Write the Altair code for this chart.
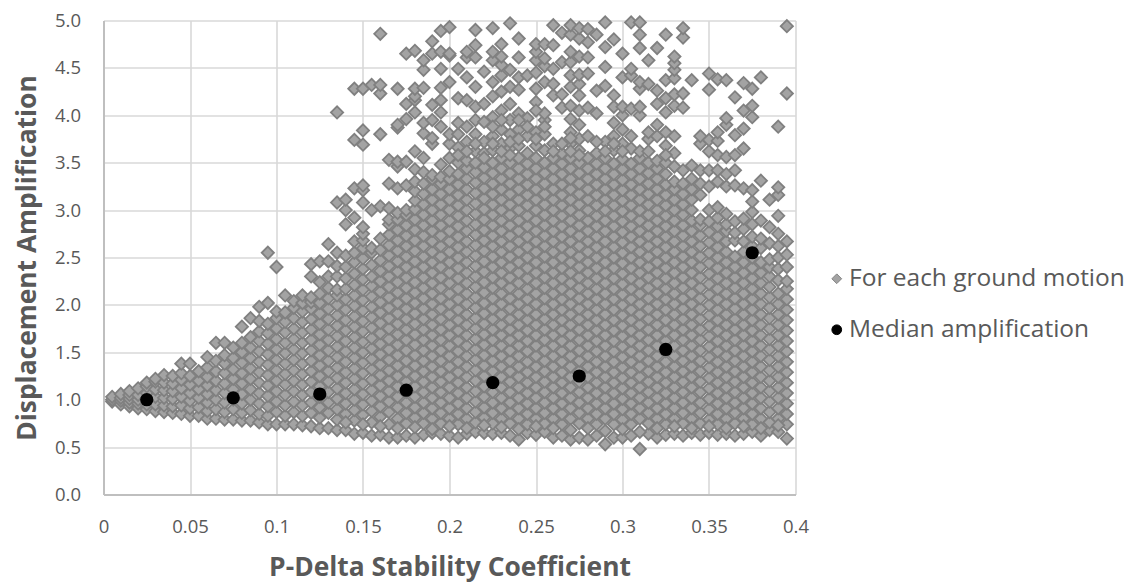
import altair as alt
import pandas as pd

# y readings for each column of points, x = 0.005 ... 0.395
c01=[.98,1.0,1.03]
c02=[.95,.99,1.02,1.06]
c03=[.93,.97,1.01,1.05,1.09]
c04=[.91,.96,1.0,1.05,1.12]
c05=[.9,.95,1.01,1.07,1.14,1.18]
c06=[.88,.95,1.03,1.11,1.19,1.22]
c07=[.87,.94,1.02,1.1,1.18,1.26]
c08=[.86,.93,1.01,1.09,1.17,1.25]
c09=[.85,.94,1.03,1.12,1.21,1.28,1.38]
c10=[.83,.91,.99,1.07,1.16,1.25,1.38]
c11=[.83,.92,1.02,1.11,1.2,1.3]
c12=[.8,.88,.97,1.06,1.15,1.24,1.34,1.45]
c13=[.8,.9,1.0,1.1,1.2,1.3,1.41,1.6]
c14=[.79,.87,.97,1.07,1.17,1.28,1.38,1.47,1.6]
c15=[.79,.9,1.0,1.11,1.22,1.32,1.44,1.55]
c16=[.78,.86,.96,1.06,1.17,1.28,1.39,1.5,1.6,1.77]
c17=[.78,.89,1.0,1.11,1.22,1.33,1.44,1.55,1.66,1.86]
c18=[.76,.85,.96,1.07,1.18,1.29,1.4,1.51,1.62,1.72,1.83,1.98]
c19=[.74,.83,.93,1.04,1.15,1.26,1.37,1.48,1.59,1.7,1.8,2.02,2.55]
c20=[.74,.87,.98,1.09,1.2,1.31,1.42,1.53,1.64,1.75,1.86,1.93,2.4]
c21=[.74,.83,.94,1.05,1.16,1.27,1.38,1.49,1.6,1.71,1.82,1.92,2.1]
c22=[.74,.87,.98,1.09,1.2,1.31,1.42,1.53,1.64,1.75,1.86,1.97,2.04]
c23=[.73,.83,.94,1.05,1.16,1.27,1.38,1.49,1.6,1.71,1.82,1.93,2.02,2.1]
c24=[.72,.86,.97,1.08,1.19,1.3,1.41,1.52,1.63,1.74,1.85,1.96,2.03,2.08,2.3,2.43]
c25=[.7,.81,.92,1.03,1.14,1.25,1.36,1.47,1.58,1.69,1.8,1.91,2.02,2.12,2.24,2.46]
c26=[.7,.86,.97,1.08,1.19,1.3,1.41,1.52,1.63,1.74,1.85,1.96,2.07,2.18,2.3,2.46,2.64]
c27=[.68,.79,.9,1.01,1.12,1.23,1.34,1.45,1.56,1.67,1.78,1.89,2.0,2.1,2.16,2.3,2.41,2.55,3.08,4.03]
c28=[.68,.85,.96,1.07,1.18,1.29,1.4,1.51,1.62,1.73,1.84,1.95,2.06,2.17,2.28,2.4,2.52,2.85,3.0,3.11]
c29=[.64,.78,.89,1.0,1.11,1.22,1.33,1.44,1.55,1.66,1.77,1.88,1.99,2.1,2.21,2.33,2.45,2.55,2.67,2.92,3.23,3.74,4.28]
c30=[.65,.84,.95,1.06,1.17,1.28,1.39,1.5,1.61,1.72,1.83,1.94,2.05,2.16,2.27,2.38,2.49,2.6,2.68,2.75,2.82,3.08,3.21,3.26,3.69,3.84,4.28]
c31=[.62,.76,.88,.99,1.1,1.21,1.32,1.43,1.54,1.65,1.76,1.87,1.98,2.09,2.2,2.3,2.42,2.55,2.6,3.0,4.32]
c32=[.63,.82,.93,1.04,1.15,1.26,1.37,1.48,1.59,1.7,1.81,1.92,2.03,2.14,2.25,2.36,2.47,2.58,2.7,3.04,3.8,4.23,4.32,4.86]
c33=[.6,.74,.87,.98,1.09,1.2,1.31,1.42,1.53,1.64,1.75,1.86,1.97,2.08,2.19,2.3,2.41,2.52,2.63,2.74,2.85,2.9,3.02,3.28,3.53]
c34=[.6,.8,.92,1.03,1.14,1.25,1.36,1.47,1.58,1.69,1.8,1.91,2.02,2.13,2.24,2.35,2.46,2.57,2.68,2.79,2.9,2.97,3.23,3.46,3.51,3.87,3.9,4.28]
c35=[.62,.75,.86,.97,1.08,1.19,1.3,1.41,1.52,1.63,1.74,1.85,1.96,2.07,2.18,2.29,2.4,2.51,2.62,2.73,2.84,2.95,3.0,3.26,3.51,3.96,4.12,4.65]
c36=[.6,.81,.92,1.03,1.14,1.25,1.36,1.47,1.58,1.69,1.8,1.91,2.02,2.13,2.24,2.35,2.46,2.57,2.68,2.79,2.9,3.01,3.1,3.2,3.3,3.43,3.62,4.03,4.16,4.2,4.28,4.68]
c37=[.63,.75,.86,.97,1.08,1.19,1.3,1.41,1.52,1.63,1.74,1.85,1.96,2.07,2.18,2.29,2.4,2.51,2.62,2.73,2.84,2.95,3.06,3.17,3.28,3.4,3.55,3.81,3.92,4.29,4.48,4.58]
c38=[.65,.8,.91,1.02,1.13,1.24,1.35,1.46,1.57,1.68,1.79,1.9,2.01,2.12,2.23,2.34,2.45,2.56,2.67,2.78,2.89,3.0,3.11,3.22,3.33,3.37,3.7,3.76,3.95,4.11,4.65,4.78]
c39=[.64,.75,.86,.97,1.08,1.19,1.3,1.41,1.52,1.63,1.74,1.85,1.96,2.07,2.18,2.29,2.4,2.51,2.62,2.73,2.84,2.95,3.06,3.17,3.28,3.35,3.48,3.88,4.03,4.16,4.29,4.49,4.67,4.89]
c40=[.62,.8,.91,1.02,1.13,1.24,1.35,1.46,1.57,1.68,1.79,1.9,2.01,2.12,2.23,2.34,2.45,2.56,2.67,2.78,2.89,3.0,3.11,3.22,3.33,3.41,3.7,3.8,4.35,4.63,4.65,4.93]
c41=[.6,.74,.85,.96,1.07,1.18,1.29,1.4,1.51,1.62,1.73,1.84,1.95,2.06,2.17,2.28,2.39,2.5,2.61,2.72,2.83,2.94,3.05,3.16,3.27,3.38,3.5,3.66,3.8,3.92,4.18,4.49]
c42=[.64,.8,.91,1.02,1.13,1.24,1.35,1.46,1.57,1.68,1.79,1.9,2.01,2.12,2.23,2.34,2.45,2.56,2.67,2.78,2.89,3.0,3.11,3.22,3.33,3.44,3.52,3.72,3.88,4.16,4.4,4.61,4.67]
c43=[.66,.76,.87,.98,1.09,1.2,1.31,1.42,1.53,1.64,1.75,1.86,1.97,2.08,2.19,2.3,2.41,2.52,2.63,2.74,2.85,2.96,3.07,3.18,3.29,3.4,3.5,3.62,3.8,3.95,4.09,4.3,4.61,4.74,4.9]
c44=[.65,.81,.92,1.03,1.14,1.25,1.36,1.47,1.58,1.69,1.8,1.91,2.02,2.13,2.24,2.35,2.46,2.57,2.68,2.79,2.9,3.01,3.12,3.23,3.34,3.45,3.6,3.72,3.93,4.12,4.46]
c45=[.64,.75,.86,.97,1.08,1.19,1.3,1.41,1.52,1.63,1.74,1.85,1.96,2.07,2.18,2.29,2.4,2.51,2.62,2.73,2.84,2.95,3.06,3.17,3.28,3.39,3.5,3.63,3.78,3.98,4.2,4.35,4.58,4.67,4.92]
c46=[.65,.8,.91,1.02,1.13,1.24,1.35,1.46,1.57,1.68,1.79,1.9,2.01,2.12,2.23,2.34,2.45,2.56,2.67,2.78,2.89,3.0,3.11,3.22,3.33,3.44,3.55,3.7,3.85,4.05,4.25,4.42,4.53,4.62,4.75]
c47=[.62,.75,.86,.97,1.08,1.19,1.3,1.41,1.52,1.63,1.74,1.85,1.96,2.07,2.18,2.29,2.4,2.51,2.62,2.73,2.84,2.95,3.06,3.17,3.28,3.39,3.5,3.65,3.8,3.95,4.12,4.3,4.48,4.97]
c48=[.58,.8,.91,1.02,1.13,1.24,1.35,1.46,1.57,1.68,1.79,1.9,2.01,2.12,2.23,2.34,2.45,2.56,2.67,2.78,2.89,3.0,3.11,3.22,3.33,3.44,3.55,3.68,3.85,4.02,4.27,4.4,4.61,4.81]
c49=[.65,.74,.85,.96,1.07,1.18,1.29,1.4,1.51,1.62,1.73,1.84,1.95,2.06,2.17,2.28,2.39,2.5,2.61,2.72,2.83,2.94,3.05,3.16,3.27,3.38,3.49,3.6,3.78,3.97,4.42]
c50=[.63,.8,.91,1.02,1.13,1.24,1.35,1.46,1.57,1.68,1.79,1.9,2.01,2.12,2.23,2.34,2.45,2.56,2.67,2.78,2.89,3.0,3.11,3.22,3.33,3.44,3.55,3.68,3.82,4.14,4.28,4.45,4.58,4.67,4.75]
c51=[.66,.75,.86,.97,1.08,1.19,1.3,1.41,1.52,1.63,1.74,1.85,1.96,2.07,2.18,2.29,2.4,2.51,2.62,2.73,2.84,2.95,3.06,3.17,3.28,3.39,3.5,3.63,3.8,3.95,4.02,4.35,4.52,4.6,4.75]
c52=[.6,.8,.91,1.02,1.13,1.24,1.35,1.46,1.57,1.68,1.79,1.9,2.01,2.12,2.23,2.34,2.45,2.56,2.67,2.78,2.89,3.0,3.11,3.22,3.33,3.44,3.55,3.7,4.21,4.33,4.49,4.74,4.95]
c53=[.62,.74,.85,.96,1.07,1.18,1.29,1.4,1.51,1.62,1.73,1.84,1.95,2.06,2.17,2.28,2.39,2.5,2.61,2.72,2.83,2.94,3.05,3.16,3.27,3.38,3.49,3.6,4.08,4.22,4.56,4.87]
c54=[.58,.8,.91,1.02,1.13,1.24,1.35,1.46,1.57,1.68,1.79,1.9,2.01,2.12,2.23,2.34,2.45,2.56,2.67,2.78,2.89,3.0,3.11,3.22,3.33,3.44,3.55,3.7,3.82,3.96,4.1,4.3,4.42,4.56,4.67,4.85,4.95]
c55=[.6,.75,.86,.97,1.08,1.19,1.3,1.41,1.52,1.63,1.74,1.85,1.96,2.07,2.18,2.29,2.4,2.51,2.62,2.73,2.84,2.95,3.06,3.17,3.28,3.39,3.5,3.63,3.75,3.9,4.05,4.21,4.33,4.43,4.62,4.81,4.92]
c56=[.58,.8,.91,1.02,1.13,1.24,1.35,1.46,1.57,1.68,1.79,1.9,2.01,2.12,2.23,2.34,2.45,2.56,2.67,2.78,2.89,3.0,3.11,3.22,3.33,3.44,3.55,3.78,4.08,4.44,4.61,4.77,4.91]
c57=[.62,.74,.85,.96,1.07,1.18,1.29,1.4,1.51,1.62,1.73,1.84,1.95,2.06,2.17,2.28,2.39,2.5,2.61,2.72,2.83,2.94,3.05,3.16,3.27,3.38,3.49,3.6,4.02,4.26,4.85]
c58=[.53,.8,.91,1.02,1.13,1.24,1.35,1.46,1.57,1.68,1.79,1.9,2.01,2.12,2.23,2.34,2.45,2.56,2.67,2.78,2.89,3.0,3.11,3.22,3.33,3.44,3.55,3.72,4.31,4.51,4.72,4.98]
c59=[.6,.74,.85,.96,1.07,1.18,1.29,1.4,1.51,1.62,1.73,1.84,1.95,2.06,2.17,2.28,2.39,2.5,2.61,2.72,2.83,2.94,3.05,3.16,3.27,3.38,3.49,3.63,3.78,3.92,4.09,4.21,4.8]
c60=[.6,.79,.9,1.01,1.12,1.23,1.34,1.45,1.56,1.67,1.78,1.89,2.0,2.11,2.22,2.33,2.44,2.55,2.66,2.77,2.88,2.99,3.1,3.21,3.32,3.43,3.54,3.7,3.85,4.0,4.09,4.4,4.65]
c61=[.62,.74,.85,.96,1.07,1.18,1.29,1.4,1.51,1.62,1.73,1.84,1.95,2.06,2.17,2.28,2.39,2.5,2.61,2.72,2.83,2.94,3.05,3.16,3.27,3.38,3.49,3.65,3.78,4.07,4.42,4.49,4.98]
c62=[.48,.8,.91,1.02,1.13,1.24,1.35,1.46,1.57,1.68,1.79,1.9,2.01,2.12,2.23,2.34,2.45,2.56,2.67,2.78,2.89,3.0,3.11,3.22,3.33,3.44,3.55,3.62,4.0,4.09,4.28,4.35,4.71,4.85,4.98]
c63=[.64,.75,.86,.97,1.08,1.19,1.3,1.41,1.52,1.63,1.74,1.85,1.96,2.07,2.18,2.29,2.4,2.51,2.62,2.73,2.84,2.95,3.06,3.17,3.28,3.39,3.5,3.75,3.82,4.33,4.58]
c64=[.6,.8,.91,1.02,1.13,1.24,1.35,1.46,1.57,1.68,1.79,1.9,2.01,2.12,2.23,2.34,2.45,2.56,2.67,2.78,2.89,3.0,3.11,3.22,3.33,3.44,3.52,3.78,4.12,4.26,4.71]
c65=[.63,.74,.85,.96,1.07,1.18,1.29,1.4,1.51,1.62,1.73,1.84,1.95,2.06,2.17,2.28,2.39,2.5,2.61,2.72,2.83,2.94,3.05,3.16,3.27,3.38,3.5,3.68,3.82,4.03,4.18,4.37,4.85]
c66=[.64,.8,.91,1.02,1.13,1.24,1.35,1.46,1.57,1.68,1.79,1.9,2.01,2.12,2.23,2.34,2.45,2.56,2.67,2.78,2.89,3.0,3.11,3.22,3.3,3.46,3.6,3.78,4.1,4.22,4.39,4.48,4.55,4.62]
c67=[.62,.75,.86,.97,1.08,1.19,1.3,1.41,1.52,1.63,1.74,1.85,1.96,2.07,2.18,2.29,2.4,2.51,2.62,2.73,2.84,2.95,3.06,3.17,3.28,3.42,4.08,4.23,4.82,4.92]
c68=[.65,.8,.91,1.02,1.13,1.24,1.35,1.46,1.57,1.68,1.79,1.9,2.01,2.12,2.23,2.34,2.45,2.56,2.67,2.78,2.89,3.0,3.11,3.22,3.33,3.47,4.37]
c69=[.63,.75,.86,.97,1.08,1.19,1.3,1.41,1.52,1.63,1.74,1.85,1.96,2.07,2.18,2.29,2.4,2.51,2.62,2.73,2.84,2.9,3.16,3.28,3.42,3.7,3.78]
c70=[.65,.79,.9,1.01,1.12,1.23,1.34,1.45,1.56,1.67,1.78,1.89,2.0,2.11,2.22,2.33,2.44,2.55,2.66,2.77,2.88,3.0,3.25,3.42,3.62,3.74,4.27,4.44]
c71=[.63,.74,.85,.96,1.07,1.18,1.29,1.4,1.51,1.62,1.73,1.84,1.95,2.06,2.17,2.28,2.39,2.5,2.61,2.72,2.83,2.92,3.03,3.3,3.42,3.58,3.73,3.82,4.38]
c72=[.64,.8,.91,1.02,1.13,1.24,1.35,1.46,1.57,1.68,1.79,1.9,2.01,2.12,2.23,2.34,2.45,2.56,2.67,2.78,2.85,2.96,3.25,3.38,3.56,3.9,3.97,4.37]
c73=[.62,.75,.86,.97,1.08,1.19,1.3,1.41,1.52,1.63,1.74,1.85,1.96,2.07,2.18,2.29,2.4,2.51,2.68,2.76,2.88,3.26,3.42,3.58,3.79,4.19]
c74=[.64,.8,.91,1.02,1.13,1.24,1.35,1.46,1.57,1.68,1.79,1.9,2.01,2.12,2.23,2.34,2.45,2.56,2.67,2.8,2.91,3.23,3.65,3.86,4.05,4.34]
c75=[.66,.74,.85,.96,1.07,1.18,1.29,1.4,1.51,1.62,1.73,1.84,1.95,2.06,2.17,2.28,2.39,2.5,2.62,2.72,2.85,2.98,3.09,3.21,3.98,4.1,4.28]
c76=[.62,.8,.91,1.02,1.13,1.24,1.35,1.46,1.57,1.68,1.79,1.9,2.01,2.12,2.23,2.34,2.45,2.6,2.7,2.89,3.31,4.4]
c77=[.68,.76,.87,.98,1.09,1.2,1.31,1.42,1.53,1.64,1.75,1.86,1.97,2.08,2.19,2.3,2.4,2.48,2.65,2.82,3.11]
c78=[.66,.8,.91,1.02,1.13,1.24,1.35,1.46,1.57,1.68,1.79,1.9,2.01,2.12,2.26,2.38,2.5,2.62,2.75,2.94,3.16,3.24,3.88]
c79=[.59,.74,.85,.96,1.07,1.18,1.29,1.4,1.51,1.62,1.73,1.84,1.95,2.06,2.17,2.25,2.4,2.53,2.67,4.23,4.94]

x_columns=[.005,.01,.015,.02,.025,.03,.035,.04,.045,.05,.055,.06,.065,.07,.075,.08,.085,.09,.095,.1,
           .105,.11,.115,.12,.125,.13,.135,.14,.145,.15,.155,.16,.165,.17,.175,.18,.185,.19,.195,.2,
           .205,.21,.215,.22,.225,.23,.235,.24,.245,.25,.255,.26,.265,.27,.275,.28,.285,.29,.295,.3,
           .305,.31,.315,.32,.325,.33,.335,.34,.345,.35,.355,.36,.365,.37,.375,.38,.385,.39,.395]
y_columns=[c01,c02,c03,c04,c05,c06,c07,c08,c09,c10,c11,c12,c13,c14,c15,c16,c17,c18,c19,c20,
           c21,c22,c23,c24,c25,c26,c27,c28,c29,c30,c31,c32,c33,c34,c35,c36,c37,c38,c39,c40,
           c41,c42,c43,c44,c45,c46,c47,c48,c49,c50,c51,c52,c53,c54,c55,c56,c57,c58,c59,c60,
           c61,c62,c63,c64,c65,c66,c67,c68,c69,c70,c71,c72,c73,c74,c75,c76,c77,c78,c79]

# further readings: lower edge of the cloud
low_x=[.14,.15,.16,.17,.18,.19,.2,.21,.22,.23,.24,.25,.26,.27,.28,.29,.3,.31,.32,.33,.34,.35,.36,.37,.38,.39]
low_y=[.76,.74,.72,.7,.71,.69,.72,.7,.73,.71,.69,.72,.7,.68,.7,.67,.69,.66,.7,.72,.7,.72,.7,.72,.7,.73]
# further readings: scattered band above the cloud
upper_x=[.2,.205,.21,.215,.22,.225,.225,.23,.23,.235,.235,.24,.24,.245,
         .25,.25,.255,.26,.265,.27,.27,.275,.285,.29,.295,.3,.315,.32,.325]
upper_y=[3.55,3.58,3.62,3.7,3.55,3.7,3.88,3.62,3.95,3.58,3.72,3.75,3.95,3.88,
         3.75,4.05,3.88,3.62,3.7,3.62,3.76,3.58,3.72,3.62,3.7,3.62,3.62,3.9,3.58]

median_x=[.025,.075,.125,.175,.225,.275,.325,.375]
median_y=[1.0,1.02,1.06,1.1,1.18,1.25,1.53,2.55]

S1="For each ground motion"
S2="Median amplification"
x_ticks=[0,.05,.1,.15,.2,.25,.3,.35,.4]
y_ticks=[0,.5,1,1.5,2,2.5,3,3.5,4,4.5,5]

rows=[{"x":xv,"y":yv,"series":S1} for xv,col in zip(x_columns,y_columns) for yv in col]
rows+=[{"x":xv,"y":yv,"series":S1} for xv,yv in zip(low_x,low_y)]
rows+=[{"x":xv,"y":yv,"series":S1} for xv,yv in zip(upper_x,upper_y)]
all_df=pd.DataFrame(rows)
med_df=pd.DataFrame({"x":median_x,"y":median_y,"series":S2})

FONT="Open Sans"
TXT="#595959"
xe=alt.X("x:Q",scale=alt.Scale(domain=[0,.4],nice=False),
    axis=alt.Axis(values=x_ticks,format="~g",labelFlush=False,title="P-Delta Stability Coefficient"))
ye=alt.Y("y:Q",scale=alt.Scale(domain=[0,5],nice=False),
    axis=alt.Axis(values=y_ticks,format=".1f",labelFlush=False,title="Displacement Amplification"))
dom=[S1,S2]
leg=alt.Legend(title=None,orient="none",legendX=721,legendY=246,symbolSize=95,
        labelFont=FONT,labelFontSize=24.5,labelColor=TXT,labelLimit=400,rowPadding=26,symbolStrokeWidth=1,labelOffset=0)
fill=alt.Fill("series:N",scale=alt.Scale(domain=dom,range=["#a3a3a3","#000000"]),legend=leg)
stroke=alt.Stroke("series:N",scale=alt.Scale(domain=dom,range=["#808080","#000000"]),legend=leg)
shape=alt.Shape("series:N",scale=alt.Scale(domain=dom,range=["diamond","circle"]),legend=leg)

a=alt.Chart(all_df).mark_point(filled=True,opacity=1,size=150,strokeWidth=1.8).encode(x=xe,y=ye,fill=fill,stroke=stroke,shape=shape)
b=alt.Chart(med_df).mark_point(filled=True,opacity=1,size=175,strokeWidth=0).encode(x=xe,y=ye,fill=fill,stroke=stroke,shape=shape)

chart=(a+b).properties(width=692,height=474,autosize=alt.AutoSizeParams(type="none"),
    padding={"left":95.5,"top":12.5,"right":338,"bottom":88},background="white"
).configure_view(stroke=None).configure_axis(
    grid=True,gridColor="#d9d9d9",gridWidth=1.6,domainColor="#bfbfbf",domainWidth=2,ticks=False,
    labelFont=FONT,labelFontSize=18.5,labelColor=TXT,
    titleFont=FONT,titleFontSize=26.4,titleFontWeight="bold",titleColor=TXT,
).configure_axisX(labelPadding=23,titlePadding=18).configure_axisY(labelPadding=23,titlePadding=13)
chart.save("out.html",embed_options={"renderer":"svg","actions":False})
